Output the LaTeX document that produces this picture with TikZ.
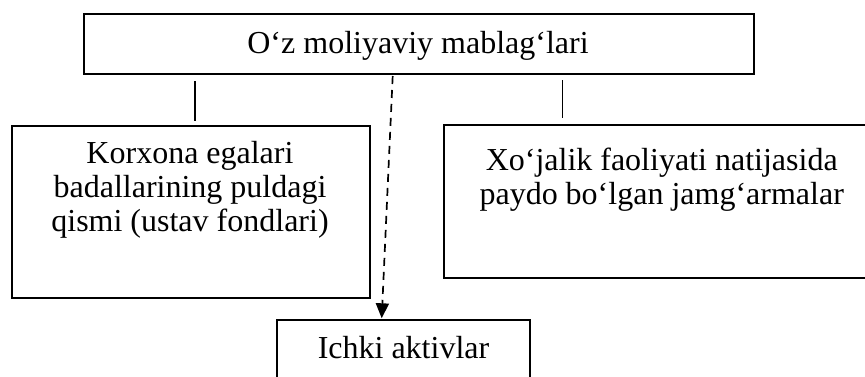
\documentclass[tikz,border=0pt]{standalone}
\usepackage{fontspec}
\setmainfont{Liberation Serif}
\newfontfamily\dfont{Liberation Serif}[Scale=3.2]
\usetikzlibrary{arrows.meta,calc}
\begin{document}
\begin{tikzpicture}[x=1pt,y=-1pt,
  box/.style={draw,line width=2pt,inner sep=0pt},
  txt/.style={inner sep=0pt,align=center,font={\dfont\setlength{\baselineskip}{34pt}}},
  link/.style={line width=1.5pt},
  dlink/.style={line width=1.7pt,dash pattern=on 8pt off 6pt,-{Triangle[width=13pt,length=15pt]}}]
\useasboundingbox (0,0) rectangle (865,376);
\node[box,minimum width=670pt,minimum height=59.7pt] (top) at (419,44.15) {};
\node[box,minimum width=358pt,minimum height=172.5pt] (left) at (191,211.75) {};
\node[box,minimum width=436pt,minimum height=152.7pt] (right) at (662,201.35) {};
\node[box,minimum width=253pt,minimum height=80pt] (bot) at (403.5,360) {};
\node[txt,anchor=base] (toptxt) at (418,53.3) {O‘z moliyaviy mablag‘lari};
\node[txt,anchor=north] (lefttxt) at (190,141.4) {Korxona egalari\\badallarining puldagi\\qismi (ustav fondlari)};
\node[txt,anchor=north] (righttxt) at (661.7,147.4) {Xo‘jalik faoliyati natijasida\\paydo bo‘lgan jamg‘armalar};
\node[txt,anchor=base] (bottxt) at (403.5,358.3) {Ichki aktivlar};
\coordinate (lx) at (195,0);
\coordinate (rx) at (562.6,0);
\draw[link] ($(lx |- top.south)+(0,6)$) -- ($(lx |- left.north)+(0,-4)$);
\draw[link] ($(rx |- top.south)+(0,5)$) -- ($(rx |- right.north)+(0,-6)$);
\draw[dlink] ($(top.south)+(-26.3,1)$) -- ($(bot.north)+(-21.8,-0.7)$);
\end{tikzpicture}
\end{document}
